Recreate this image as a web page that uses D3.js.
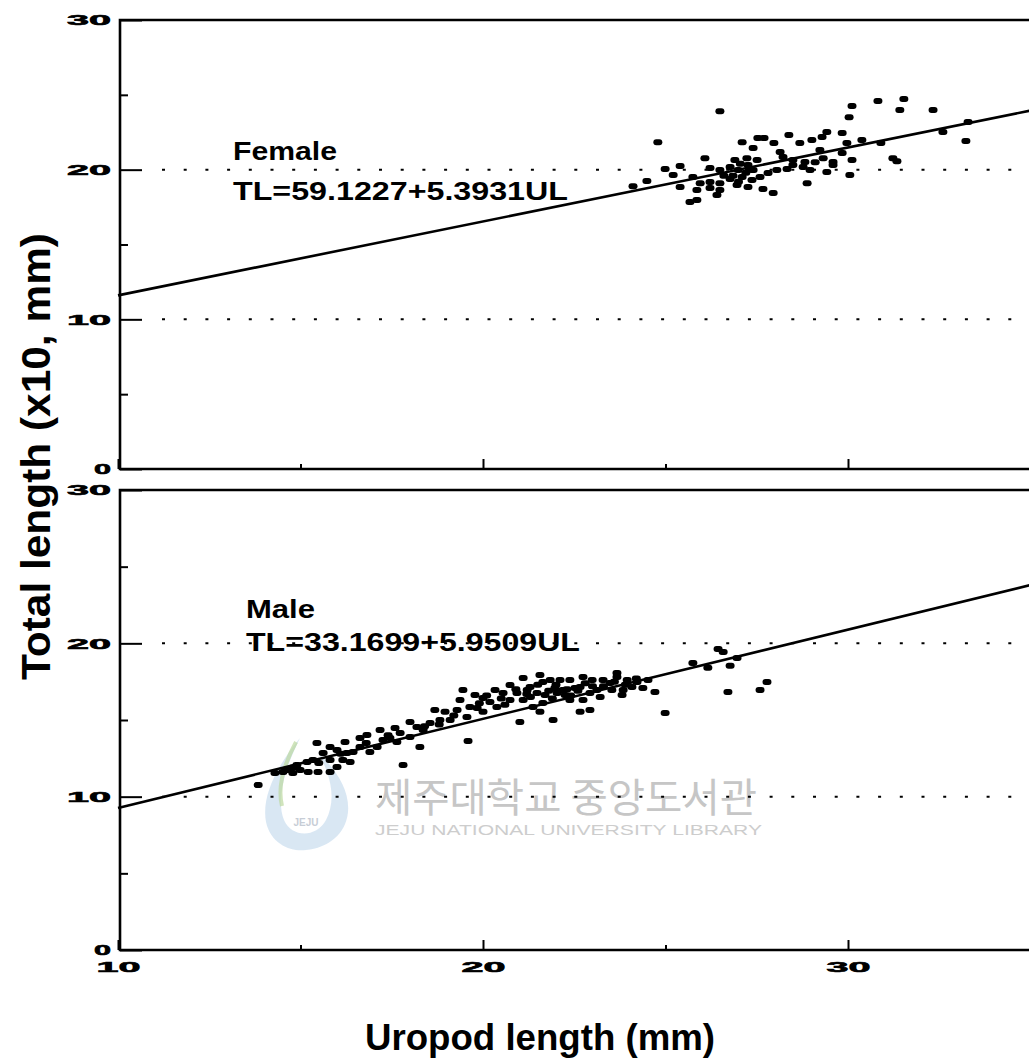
<!DOCTYPE html>
<html><head><meta charset="utf-8">
<script src="https://cdn.jsdelivr.net/npm/d3@7"></script>
<style>body{margin:0;background:#fff}svg{display:block}</style>
</head><body>
<svg id="c" width="1029" height="1062"></svg>
<script>
// ---------- data ----------
const femaleUL = [26.49,24.79,30.11,30.82,31.53,31.42,32.33,30.03,33.29,32.60,33.23,27.53,27.70,27.10,27.97,28.38,28.68,29.01,29.29,29.42,29.84,29.97,30.38,30.90,27.40,28.14,26.08,26.90,27.23,27.51,28.22,28.49,28.82,29.23,29.32,29.59,29.84,30.11,31.23,25.40,24.99,25.21,24.49,26.22,26.49,26.77,26.99,27.26,27.40,27.10,27.37,26.77,26.49,26.22,25.95,25.75,25.40,25.86,26.22,26.49,26.41,26.96,27.26,27.67,27.95,25.86,25.67,28.05,28.33,28.49,28.77,28.96,29.42,29.59,28.88,30.05,31.34,27.81,27.59,24.11,27.05,27.20,27.00,27.30,26.85,26.60,29.10];
const femaleTL = [23.91,21.84,24.25,24.58,24.72,23.98,23.98,23.51,23.18,22.51,21.91,22.11,22.11,21.84,21.78,22.31,21.78,21.98,22.18,22.51,22.45,21.78,21.98,21.78,21.44,21.18,20.77,20.64,20.77,20.64,20.84,20.64,20.51,21.31,20.77,20.51,21.11,20.64,20.77,20.24,20.04,19.64,19.24,20.11,19.97,20.17,19.97,20.31,19.97,19.51,19.31,19.37,19.10,19.17,19.10,19.51,18.84,18.64,18.77,18.64,18.30,18.97,18.84,18.70,18.44,17.97,17.84,19.97,20.04,20.31,20.17,19.97,19.84,20.31,19.10,19.64,20.57,19.77,19.51,18.90,20.40,19.80,19.20,20.00,19.60,19.60,20.50];

const maleUL = [26.44,26.58,26.77,26.16,25.75,27.78,27.59,26.71,24.99,24.71,24.52,24.22,23.95,23.67,23.84,23.48,23.29,23.12,22.99,22.74,22.93,22.66,22.66,22.38,22.19,22.03,21.92,21.84,21.64,21.48,21.29,21.10,20.93,20.74,20.55,20.38,21.01,21.37,21.64,21.56,22.38,22.74,20.19,20.00,20.00,19.84,19.64,19.56,19.29,19.59,19.10,18.82,18.55,18.36,18.19,18.27,18.00,17.73,17.64,17.45,17.26,17.10,16.82,16.90,16.63,16.44,16.27,16.00,15.81,15.62,15.45,15.34,15.18,16.16,16.36,16.00,15.81,15.48,15.21,14.79,14.52,17.81,13.84,14.90,14.63,19.45,21.10,22.11,26.96,24.38,23.67,23.81,20.74,21.21,21.70,21.97,22.25,22.52,22.93,23.21,23.53,24.08,21.56,20.33,19.78,19.37,18.96,18.68,18.00,17.59,17.18,16.63,16.22,15.81,14.99,14.30,20.1,20.5,20.9,21.3,21.5,21.8,22.0,22.3,22.4,22.6,22.8,23.0,23.3,23.6,23.9,24.2,21.9,21.2,20.6,19.9,19.2,18.8,18.4,17.4,16.8,16.1,15.5,14.8];
const maleTL = [19.63,19.44,18.53,18.40,18.72,17.48,16.96,16.83,15.46,16.83,17.61,17.48,17.61,17.81,16.96,17.42,17.61,16.96,17.61,17.81,15.66,15.53,17.16,17.61,16.96,16.76,15.00,17.61,17.48,16.76,17.16,17.74,16.76,16.31,16.76,15.85,14.87,15.85,16.11,15.53,16.31,16.31,16.18,16.44,15.53,15.79,15.85,15.20,15.66,13.63,15.00,15.00,14.81,14.35,14.55,13.24,13.89,14.16,13.57,13.83,13.70,13.24,14.02,12.92,13.24,12.92,12.85,13.05,13.24,12.85,13.50,12.39,12.26,12.39,12.26,11.94,11.61,11.61,11.61,11.55,11.61,12.07,10.76,12.07,11.74,16.96,16.31,17.61,19.05,17.09,18.07,16.63,17.29,16.96,16.63,17.09,16.63,17.09,16.76,16.50,16.96,17.16,17.94,16.96,16.63,16.31,15.53,15.66,14.87,14.48,14.35,13.83,13.57,12.39,11.74,11.55,16.6,16.4,17.0,16.5,17.3,16.9,17.3,17.0,16.6,16.9,17.4,17.2,17.2,17.5,17.3,17.7,16.4,16.7,16.0,16.1,15.3,14.7,14.6,14.0,13.5,12.8,12.2,11.9];

// fitted regression lines, end points as drawn
const fitUL = [10, 35];
const femaleFitTL = [11.6, 23.95];
const maleFitTL = [9.26, 23.8];

const yTicks = [0, 10, 20, 30];
const yMinor = [5, 15, 25];
const xTicks = [10, 20, 30];
const xMinor = [15, 25];
const gridValues = [10, 20];

const femaleLabel = "Female";
const femaleEq = "TL=59.1227+5.3931UL";
const maleLabel = "Male";
const maleEq = "TL=33.1699+5.9509UL";
const xTitle = "Uropod length (mm)";
const yTitle = "Total length (x10, mm)";
const wmKo = "제주대학교 중앙도서관";
const wmEn = "JEJU NATIONAL UNIVERSITY LIBRARY";

// ---------- drawing ----------
const svg = d3.select("#c");
const FONT = "'Liberation Sans', Arial, Helvetica, sans-serif";
const x = d3.scaleLinear().domain([10, 35]).range([118, 1030.5]);

// watermark (behind the data)
const wm = svg.append("g");
wm.append("path")
  .attr("d", "M300,738 C272,772 262,800 266,822 C271,845 292,852 306,850 C328,848 346,834 348,812 C350,790 336,770 318,752 C332,778 336,800 326,820 C316,838 292,838 284,820 C276,800 284,770 300,738 Z")
  .attr("fill", "#b9d3ea").attr("opacity", 0.55);
wm.append("path")
  .attr("d", "M296,742 C282,768 278,790 282,806")
  .attr("fill", "none").attr("stroke", "#bcd8a0").attr("stroke-width", 4).attr("opacity", 0.7);
wm.append("text").text("JEJU").attr("x", 306).attr("y", 826).attr("text-anchor", "middle")
  .attr("font-family", FONT).attr("font-size", 10).attr("font-weight", "bold").attr("fill", "#c7cdd6");
wm.append("text").text(wmKo).attr("x", 375).attr("y", 812)
  .attr("font-family", "'Noto Sans CJK KR', sans-serif").attr("font-size", 40)
  .attr("fill", "#c6c6c6").attr("textLength", 382).attr("lengthAdjust", "spacingAndGlyphs");
wm.append("text").text(wmEn).attr("x", 375).attr("y", 835)
  .attr("font-family", FONT).attr("font-size", 14)
  .attr("fill", "#cdcdcd").attr("textLength", 387).attr("lengthAdjust", "spacingAndGlyphs");

const panels = [
  { ul: femaleUL, tl: femaleTL, fit: femaleFitTL, bottom: 469, top: 20, xLabels: false,
    label: femaleLabel, eq: femaleEq, lx: 233, ly1: 160, ly2: 200, w1: 104, w2: 335 },
  { ul: maleUL, tl: maleTL, fit: maleFitTL, bottom: 950, top: 490, xLabels: true,
    label: maleLabel, eq: maleEq, lx: 246, ly1: 618, ly2: 651, w1: 69, w2: 334 }
];

panels.forEach(p => {
  const y = d3.scaleLinear().domain([0, 30]).range([p.bottom, p.top]);
  const g = svg.append("g");

  // dotted reference lines
  g.selectAll("line.grid").data(gridValues).join("line")
    .attr("x1", 162).attr("x2", 1029)
    .attr("y1", d => y(d)).attr("y2", d => y(d))
    .attr("stroke", "#000").attr("stroke-width", 2)
    .attr("stroke-dasharray", "3 18.7");

  // y axis major
  g.append("g").attr("transform", "translate(120,0)")
    .call(d3.axisLeft(y).tickValues(yTicks).tickSize(-22).tickSizeOuter(0).tickPadding(9).tickFormat(d3.format("d")));
  // y axis minor
  g.append("g").attr("transform", "translate(120,0)")
    .call(d3.axisLeft(y).tickValues(yMinor).tickSize(-8).tickSizeOuter(0).tickFormat(""));
  // x axis major / minor
  g.append("g").attr("transform", `translate(0,${p.bottom})`)
    .call(d3.axisBottom(x).tickValues(xTicks).tickSize(-10).tickSizeOuter(0).tickPadding(11)
      .tickFormat(p.xLabels ? d3.format("d") : ""));
  g.append("g").attr("transform", `translate(0,${p.bottom})`)
    .call(d3.axisBottom(x).tickValues(xMinor).tickSize(-5).tickSizeOuter(0).tickFormat(""));

  g.selectAll(".domain").remove();
  g.selectAll(".tick line").attr("stroke", "#000").attr("stroke-width", 2);
  g.selectAll(".tick text")
    .attr("font-family", FONT).attr("font-weight", "bold").attr("font-size", 15).attr("fill", "#000")
    .attr("stroke", "#000").attr("stroke-width", 0.6)
    .attr("lengthAdjust", "spacingAndGlyphs")
    .attr("textLength", function () { return this.textContent.length > 1 ? 44 : 17; });

  // frame (top, left, bottom)
  g.append("path")
    .attr("d", `M1040,${y(30)} L120,${y(30)} L120,${y(0)} L1040,${y(0)}`)
    .attr("fill", "none").attr("stroke", "#000").attr("stroke-width", 2.6);

  // regression line
  g.append("path")
    .datum(fitUL.map((u, i) => [u, p.fit[i]]))
    .attr("d", d3.line().x(d => x(d[0])).y(d => y(d[1])))
    .attr("fill", "none").attr("stroke", "#000").attr("stroke-width", 2.6);

  // points
  g.selectAll("rect.pt").data(p.ul.map((u, i) => [u, p.tl[i]])).join("rect")
    .attr("x", d => x(d[0]) - 4.5).attr("y", d => y(d[1]) - 3)
    .attr("width", 9).attr("height", 6).attr("rx", 3).attr("fill", "#000");

  // annotations
  g.append("text").text(p.label).attr("x", p.lx).attr("y", p.ly1)
    .attr("font-family", FONT).attr("font-weight", "bold").attr("font-size", 25)
    .attr("textLength", p.w1).attr("lengthAdjust", "spacingAndGlyphs");
  g.append("text").text(p.eq).attr("x", p.lx).attr("y", p.ly2)
    .attr("font-family", FONT).attr("font-weight", "bold").attr("font-size", 25)
    .attr("textLength", p.w2).attr("lengthAdjust", "spacingAndGlyphs");
});

// axis titles
svg.append("text").text(xTitle).attr("x", 365).attr("y", 1050)
  .attr("font-family", FONT).attr("font-weight", "bold").attr("font-size", 37)
  .attr("textLength", 350).attr("lengthAdjust", "spacingAndGlyphs");
svg.append("text").text(yTitle)
  .attr("transform", "translate(50,680) rotate(-90)")
  .attr("font-family", FONT).attr("font-weight", "bold").attr("font-size", 40)
  .attr("textLength", 447).attr("lengthAdjust", "spacingAndGlyphs");
</script>
</body></html>
